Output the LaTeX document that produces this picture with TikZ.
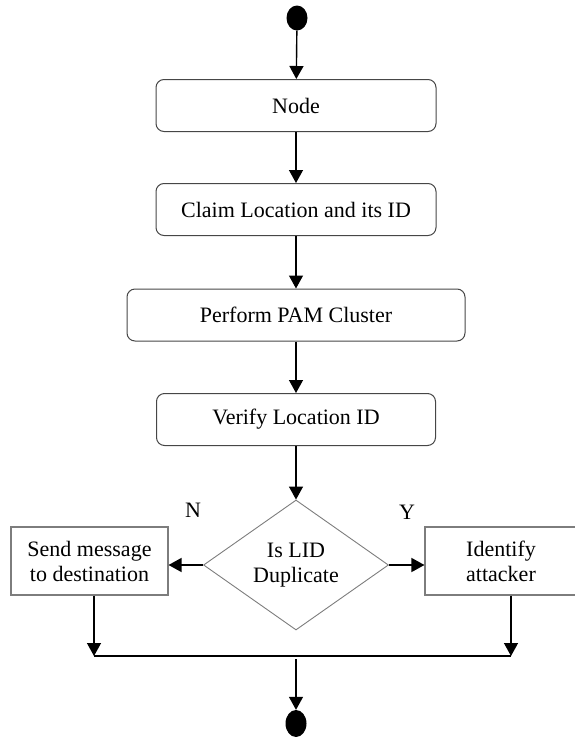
\documentclass[tikz,border=0pt]{standalone}
\usepackage{fontspec}
\setmainfont{Liberation Serif}
\usepackage{tikz}
\usetikzlibrary{shapes,arrows.meta,positioning,calc}
\usepackage{xcolor}
\definecolor{boxgray}{RGB}{70,70,70}
\definecolor{diagray}{RGB}{125,125,125}
\tikzset{
    stepbox/.style={rectangle, rounded corners=8pt, draw=boxgray, line width=1pt, minimum height=52pt},
    outbox/.style={rectangle, draw=diagray, line width=1.1pt, align=center, minimum height=68pt},
    choice/.style={diamond, draw=diagray, line width=0.9pt, aspect=1.42, inner sep=0pt, minimum width=185pt, minimum height=130pt, align=center},
    dot/.style={ellipse, fill=black, inner sep=0pt, minimum width=21pt, minimum height=25pt},
    flow/.style={-{Triangle[length=13pt,width=14pt]}, line width=1.4pt, black},
    bar/.style={line width=2pt, black},
}

\begin{document}
\begin{tikzpicture}[x=1pt, y=-1pt, font=\fontsize{22}{25}\selectfont]
    \useasboundingbox (0,0) rectangle (574,737);

    % start
    \node[dot] (start) at (297,18) {};

    % main steps
    \foreach \y/\w/\name/\txt in {105.5/280/node/Node, 209.5/280/claim/Claim Location and its ID, 315/338/pam/Perform PAM Cluster, 419.5/279/verify/Verify Location ID} {
        \node[stepbox, minimum width=\w pt] (\name) at (296,\y) {\txt};
    }
    \draw[flow] (start) -- (node);
    \draw[flow] (node) -- (claim);
    \draw[flow] (claim) -- (pam);
    \draw[flow] (pam) -- (verify);

    % decision
    \node[choice] (lid) at (296,565) {Is LID\\Duplicate};
    \draw[flow] (verify) -- (lid);
    \node[outbox, minimum width=157pt] (send) at (89.5,561) {Send message\\to destination};
    \node[outbox, minimum width=152pt] (ident) at (501,561) {Identify\\attacker};
    \draw[flow] (lid.west) -- (lid.west -| send.east);
    \draw[flow] (lid.east) -- (lid.east -| ident.west);
    \node (no) at (193,510) {N};
    \node (yes) at (407,512) {Y};

    % join
    \coordinate (barL) at (94,656);
    \coordinate (barR) at (511,656);
    \coordinate (barM) at (296,659);
    \draw[flow] (barL |- send.south) -- (barL);
    \draw[flow] (barR |- ident.south) -- (barR);
    \draw[bar] (barL) -- (barR);
    \node[dot, minimum height=27pt] (stop) at (296,723.5) {};
    \draw[flow] (barM) -- (stop);
\end{tikzpicture}
\end{document}
